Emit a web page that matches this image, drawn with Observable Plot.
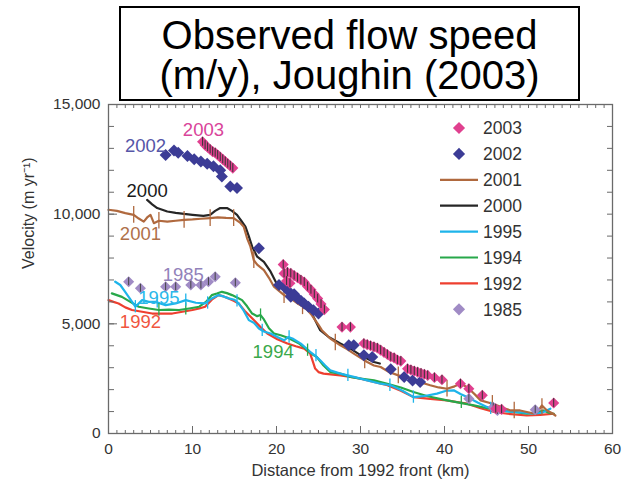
<!DOCTYPE html>
<html>
<head>
<meta charset="utf-8">
<script src="https://cdn.jsdelivr.net/npm/d3@7"></script>
<script src="https://cdn.jsdelivr.net/npm/@observablehq/plot@0.6"></script>
<style>
  body { margin: 0; background: #fff; font-family: "Liberation Sans", Arial, sans-serif; }
  #wrap { position: relative; width: 636px; height: 483px; overflow: hidden; background: #fff; }
  #title { position: absolute; left: 119px; top: 6px; width: 461px; height: 95px; box-sizing: border-box;
           border: 2px solid #000; background: #fff; text-align: center; font-size: 40px; line-height: 40px;
           padding-top: 7px; color: #000; white-space: nowrap; }
</style>
</head>
<body>
<div id="wrap"></div>
<script>
// ---------- data (km, m/yr) ----------
const years = ["2003", "2002", "2001", "2000", "1995", "1994", "1992", "1985"];

const s2003 = [
  [11.2,13300],[11.5,13150],[11.8,13050],[12.1,12950],[12.4,12850],[12.7,12800],[13.0,12700],[13.3,12600],
  [13.6,12500],[13.9,12400],[14.2,12300],[14.5,12200],[14.8,12100],
  [20.8,7700],[20.9,7300],[21.3,7350],[21.7,7300],[22.1,7200],[22.5,7100],[22.9,7000],[23.3,6900],
  [23.7,6700],[24.1,6550],[24.5,6350],[24.9,6150],[25.3,5900],[25.7,5650],[21.2,6950],[21.6,6850],
  [27.8,4850],[28.8,4850],
  [30.4,4100],[30.8,4050],[31.2,4000],[31.6,3950],[32.0,3900],[32.4,3800],[32.8,3700],[33.2,3600],
  [33.6,3500],[34.0,3450],[34.4,3350],[34.8,3300],
  [35.6,2950],[36.0,2900],[36.4,2850],[36.8,2800],[37.2,2750],[37.6,2700],[38.0,2650],[38.8,2550],[39.7,2450],
  [41.9,2270],[42.9,2040],[44.5,1740],[46.1,1130],[46.8,1100],[53.0,1390]
];
const s2002 = [
  [6.8,12700],[7.8,12900],[8.3,12800],[9.4,12650],[10.2,12500],[11.0,12400],[11.75,12300],[12.5,12180],
  [13.3,12000],[13.5,11720],[14.5,11260],[15.3,11190],
  [17.9,8450],
  [20.3,6770],[20.9,6690],[21.5,6460],[21.7,6230],[22.1,6350],[22.5,6160],[22.9,6050],[23.3,5930],
  [23.8,5780],[24.4,5620],[25.0,5470],
  [28.6,4020],[29.2,4020],[30.4,3570],[31.4,3490],
  [33.6,2930],[35.2,2580],[36.2,2420],[37.1,2350]
];
const s1985 = [
  [2.4,6920],[3.8,6620],[6.8,6690],[8.0,6690],[9.8,6770],[11.0,6770],[11.9,6920],[12.7,7150],[15.1,6870],
  [42.9,1590],[45.8,1200],[46.3,1050],[50.8,1080]
];
const s2001 = [
  [0,10200],[1,10150],[2,10050],[3,9970],[3.6,9800],[4.2,9660],[4.6,9850],[5,9970],[5.4,9590],[6,9700],
  [7,9660],[8,9700],[9,9740],[10,9760],[11,9790],[12.1,9820],[13,9850],[14,9830],[14.9,9820],[15.7,9600],
  [16.1,9430],[16.5,8900],[16.9,8520],[17.3,7900],[17.7,7700],[18.5,7450],[19.1,7100],[19.7,6690],
  [20.3,6500],[20.9,6310],[21.7,6150],[22.5,5930],[23.1,5800],[23.7,5620],[24.2,5400],[24.6,5170],
  [25.0,4950],[25.4,4710],[26.4,4330],[27.6,4020],[28.4,3850],[29.2,3640],[30.0,3450],[30.8,3260],
  [31.6,3100],[32.4,3030],[33.4,2800],[34.5,2650],[36,2500],[37,2350],[38.3,2200],[39.3,2100],[40.3,2040],
  [41.2,2150],[41.9,2270],[42.5,2150],[43.1,1970],[43.7,1750],[44.3,1510],[45.3,1400],[46.3,1280],
  [47.1,1150],[47.9,1050],[49,1050],[49.8,980],[50.8,900],[51.2,1050],[51.6,1280],[52.2,1050],[52.7,950],[53.2,820]
];
const s2000 = [
  [4.6,10650],[5.2,10450],[5.8,10280],[7,10120],[8,10060],[9,10010],[10,9970],[11.3,9920],[12.1,9970],
  [12.7,10150],[13.3,10280],[14.1,10280],[14.7,10150],[15.3,9970],[15.8,9700],[16.3,9430],[16.7,9000],
  [17.1,8520],[17.7,8060],[18.5,7830],[19.3,7380],[20.1,6770],[20.7,6650],[21.3,6540],[22.5,6230],
  [23.7,5850],[24.4,5320],[25.2,4710],[26.2,4400],[27.6,4100],[28.8,3870],[30,3570],[31.6,3260],[32.3,3190]
];
const s1995 = [
  [0.8,6920],[1.4,6770],[1.9,6500],[2.4,6230],[3.2,5780],[4,6080],[4.8,6000],[5.6,6000],[6.8,5850],[8,5930],
  [9.2,6080],[10.4,5960],[11.5,5930],[12.3,6160],[13.1,6310],[13.7,6250],[14.3,6160],[15.0,6100],[15.5,5930],
  [16.1,5600],[16.7,5170],[17.3,5050],[17.9,4790],[18.5,4650],[19.3,4560],[20.1,4400],[20.9,4250],[21.4,4400],
  [21.9,4330],[22.9,4100],[23.5,3900],[24.0,3720],[24.6,3550],[25.2,3340],[25.8,3100],[26.4,2880],[27.6,2730],
  [29.2,2580],[30.8,2420],[32.4,2270],[33.6,2200],[35,1950],[36.3,1660],[37.5,1700],[39.1,1820],[40.2,1950],
  [41.1,1970],[41.9,1800],[42.7,1660],[44,1400],[45.1,1200],[46.7,1050],[48.3,980],[49.5,950],[50.6,900],
  [51.6,950],[52.6,1130]
];
const s1994 = [
  [0.4,6390],[1.6,6230],[2.6,6000],[3.6,5780],[4.8,5700],[6,5630],[7.2,5650],[8.4,5630],[9.6,5700],[10.8,5780],
  [11.6,6000],[12.3,6310],[12.9,6380],[13.5,6460],[14.1,6400],[14.7,6310],[15.3,6200],[15.9,6080],[16.5,5800],
  [17.1,5470],[17.7,5350],[18.1,5400],[18.5,5200],[19.1,4800],[19.7,4560],[20.5,4480],[21.1,4400],[21.7,4300],
  [22.7,4100],[23.7,3800],[24.3,3600],[24.8,3490],[25.6,3100],[26.4,2800],[27.6,2730],[28.8,2580],[30,2500],
  [31.6,2420],[33.2,2270],[34.8,2100],[36.3,1890],[38,1700],[40.3,1510],[41.9,1400],[43.5,1280],[45.1,1150],
  [46.7,1050],[48.3,980],[49.8,900],[50.8,950],[51.8,1050],[52.4,950],[53,900]
];
const s1992 = [
  [0,6080],[0.6,6000],[1.2,5930],[2,5750],[2.8,5630],[4,5550],[5.2,5470],[6.4,5470],[7.6,5470],[8.8,5550],
  [10,5630],[10.8,5700],[11.5,5780],[12.3,6100],[13.1,6310],[13.7,6250],[14.3,6160],[14.9,6050],[15.5,5930],
  [16.2,5600],[17.3,5170],[18.1,4850],[18.9,4560],[20.1,4300],[21.3,4100],[22.3,3980],[23.3,3870],[24.0,3650],
  [24.4,3200],[24.6,2960],[25.0,2800],[25.6,2730],[27.6,2650],[29,2570],[30,2500],[31.6,2350],[33.2,2200],
  [34.8,1950],[36.3,1660],[38.3,1580],[40.3,1510],[41.5,1430],[42.7,1360],[44.3,1150],[45.9,980],[47.5,900],
  [49.8,820],[51.4,850],[53,900]
];
// error bar centres
const eb2001 = [[3,9970],[6,9700],[9,9740],[12.1,9820],[14.9,9820],[17.3,7900],[20.9,6310],[23.1,5800],
  [27.0,4150],[30.5,3330],[34.5,2650],[40.3,2040],[45.7,1350],[48.3,1050],[51.6,1200]];
const eb1995 = [[3.2,5780],[5.8,6000],[9.2,6080],[11.8,5950],[15.3,6050],[18.3,4700],[21.5,4400],[24.7,3550],
  [28.5,2650],[33.5,2200],[36.3,1660],[45.5,1150]];
const eb1994 = [[6,5630],[9.2,5680],[18.1,5400],[23.7,3800],[42,1420]];

// in-plot series labels
const labelYears = ["2003", "2002", "2000", "2001", "1985", "1995", "1992", "1994"];
const labelKm =    [11.3,   4.4,    4.6,    3.8,    8.9,    6.0,    3.8,    19.6];
const labelV =     [13850,  13120,  11070,  9100,   7230,   6170,   5080,   3700];

const xTicks = [0, 10, 20, 30, 40, 50, 60];
const yTicks = [0, 5000, 10000, 15000];
const xTitle = "Distance from 1992 front (km)";
const yTitle = "Velocity (m yr⁻¹)";

// ---------- styling ----------
const color = {
  "2003": "#e0408f", "2002": "#3c3c96", "2001": "#b0693e", "2000": "#262626",
  "1995": "#1eb4ea", "1994": "#27a84a", "1992": "#ee3f2f", "1985": "#a08bc5"
};
const labelColor = {
  "2003": "#d9449a", "2002": "#5656a8", "2001": "#b0714a", "2000": "#1a1a1a",
  "1995": "#2cb8ea", "1994": "#3aa84a", "1992": "#f0563f", "1985": "#9282ba"
};
const series = { "2003": s2003, "2002": s2002, "2001": s2001, "2000": s2000,
                 "1995": s1995, "1994": s1994, "1992": s1992, "1985": s1985 };
const rows = (year, arr) => arr.map(([km, v]) => ({year, km, v}));
const labels = labelYears.map((t, i) => ({t, km: labelKm[i], v: labelV[i]}));

const axisGrey = "#6a6a6a";
const minorX = d3.range(0, 61, 1), minorY = d3.range(0, 15001, 1000);
const blank = () => "";

const lineMarks = ["1992", "1994", "1995", "2000", "2001"].map(y =>
  Plot.line(rows(y, series[y]), {x: "km", y: "v", stroke: color[y], strokeWidth: 2.2, strokeLinejoin: "round"}));
const ebMark = (arr, year, h, w) =>
  Plot.ruleX(rows(year, arr), {x: "km", y1: d => d.v - h, y2: d => d.v + h, stroke: color[year], strokeWidth: w});
const dotMark = (y, r) => Plot.dot(rows(y, series[y]), {x: "km", y: "v", symbol: "diamond2", r, fill: color[y]});

const chart = Plot.plot({
  width: 636, height: 483,
  marginLeft: 108, marginRight: 24, marginTop: 104, marginBottom: 50,
  style: {fontFamily: "Liberation Sans, Arial, sans-serif", fontSize: "15px", color: "#333", background: "white"},
  x: {domain: [0, 60]},
  y: {domain: [0, 15000]},
  marks: [
    ...lineMarks,
    ebMark(eb1994, "1994", 280, 1.3),
    ebMark(eb1995, "1995", 280, 1.3),
    ebMark(eb2001, "2001", 380, 1.3),
    dotMark("1985", 5),
    Plot.ruleX(rows("1985", s1985), {x: "km", y1: d => d.v - 180, y2: d => d.v + 180, stroke: "#444", strokeWidth: 1}),
    dotMark("2002", 5.4),
    dotMark("2003", 5),
    Plot.ruleX(rows("2003", s2003), {x: "km", y1: d => d.v - 200, y2: d => d.v + 200, stroke: "#333", strokeWidth: 1}),
    Plot.text(labels, {x: "km", y: "v", text: "t", fill: d => labelColor[d.t], fontSize: 18.5}),
    Plot.frame({stroke: axisGrey, strokeWidth: 1.3}),
    // inward ticks
    Plot.axisX({anchor: "top", frameAnchor: "bottom", ticks: minorX, tickSize: 4, tickFormat: blank, stroke: axisGrey, label: null}),
    Plot.axisX({anchor: "top", frameAnchor: "bottom", ticks: xTicks, tickSize: 8, tickFormat: blank, stroke: axisGrey, label: null}),
    Plot.axisX({anchor: "bottom", frameAnchor: "top", ticks: minorX, tickSize: 4, tickFormat: blank, stroke: axisGrey, label: null}),
    Plot.axisY({anchor: "right", frameAnchor: "left", ticks: minorY, tickSize: 5, tickFormat: blank, stroke: axisGrey, label: null}),
    Plot.axisY({anchor: "right", frameAnchor: "left", ticks: yTicks, tickSize: 8, tickFormat: blank, stroke: axisGrey, label: null}),
    Plot.axisY({anchor: "left", frameAnchor: "right", ticks: minorY, tickSize: 5, tickFormat: blank, stroke: axisGrey, label: null}),
    // tick labels
    Plot.axisX({anchor: "bottom", ticks: xTicks, tickSize: 0, tickPadding: 9, fontSize: 15.5, fill: "#333", label: null}),
    Plot.axisY({anchor: "left", ticks: yTicks, tickSize: 0, tickPadding: 8, fontSize: 15.5, fill: "#333",
      tickFormat: d3.format(","), label: null}),
    // axis titles
    Plot.text([xTitle], {frameAnchor: "bottom", dy: 42, text: d => d, fontSize: 16.5, fill: "#333"}),
    Plot.text([yTitle], {frameAnchor: "left", dx: -80, rotate: -90, text: d => d, fontSize: 16, fill: "#333"})
  ]
});
const wrap = document.getElementById("wrap");
wrap.appendChild(chart);

// title box
const title = document.createElement("div");
title.id = "title";
title.innerHTML = "Observed flow speed<br>(m/y), Joughin (2003)";
wrap.appendChild(title);

// legend
const leg = d3.select(wrap).append("svg")
  .attr("width", 636).attr("height", 483)
  .style("position", "absolute").style("left", "0px").style("top", "0px");
const dotYears = new Set(["2003", "2002", "1985"]);
years.forEach((yr, i) => {
  const cy = 128 + i * 25.9;
  if (dotYears.has(yr)) {
    leg.append("rect").attr("x", -4.3).attr("y", -4.3).attr("width", 8.6).attr("height", 8.6)
      .attr("transform", `translate(459,${cy}) rotate(45)`).attr("fill", color[yr]);
  } else {
    leg.append("line").attr("x1", 440).attr("x2", 478).attr("y1", cy).attr("y2", cy)
      .attr("stroke", color[yr]).attr("stroke-width", 2.2);
  }
  leg.append("text").attr("x", 483).attr("y", cy).attr("dy", "0.36em")
    .attr("font-size", 17.5).attr("fill", "#333")
    .attr("font-family", "Liberation Sans, Arial, sans-serif").text(yr);
});
</script>
</body>
</html>
